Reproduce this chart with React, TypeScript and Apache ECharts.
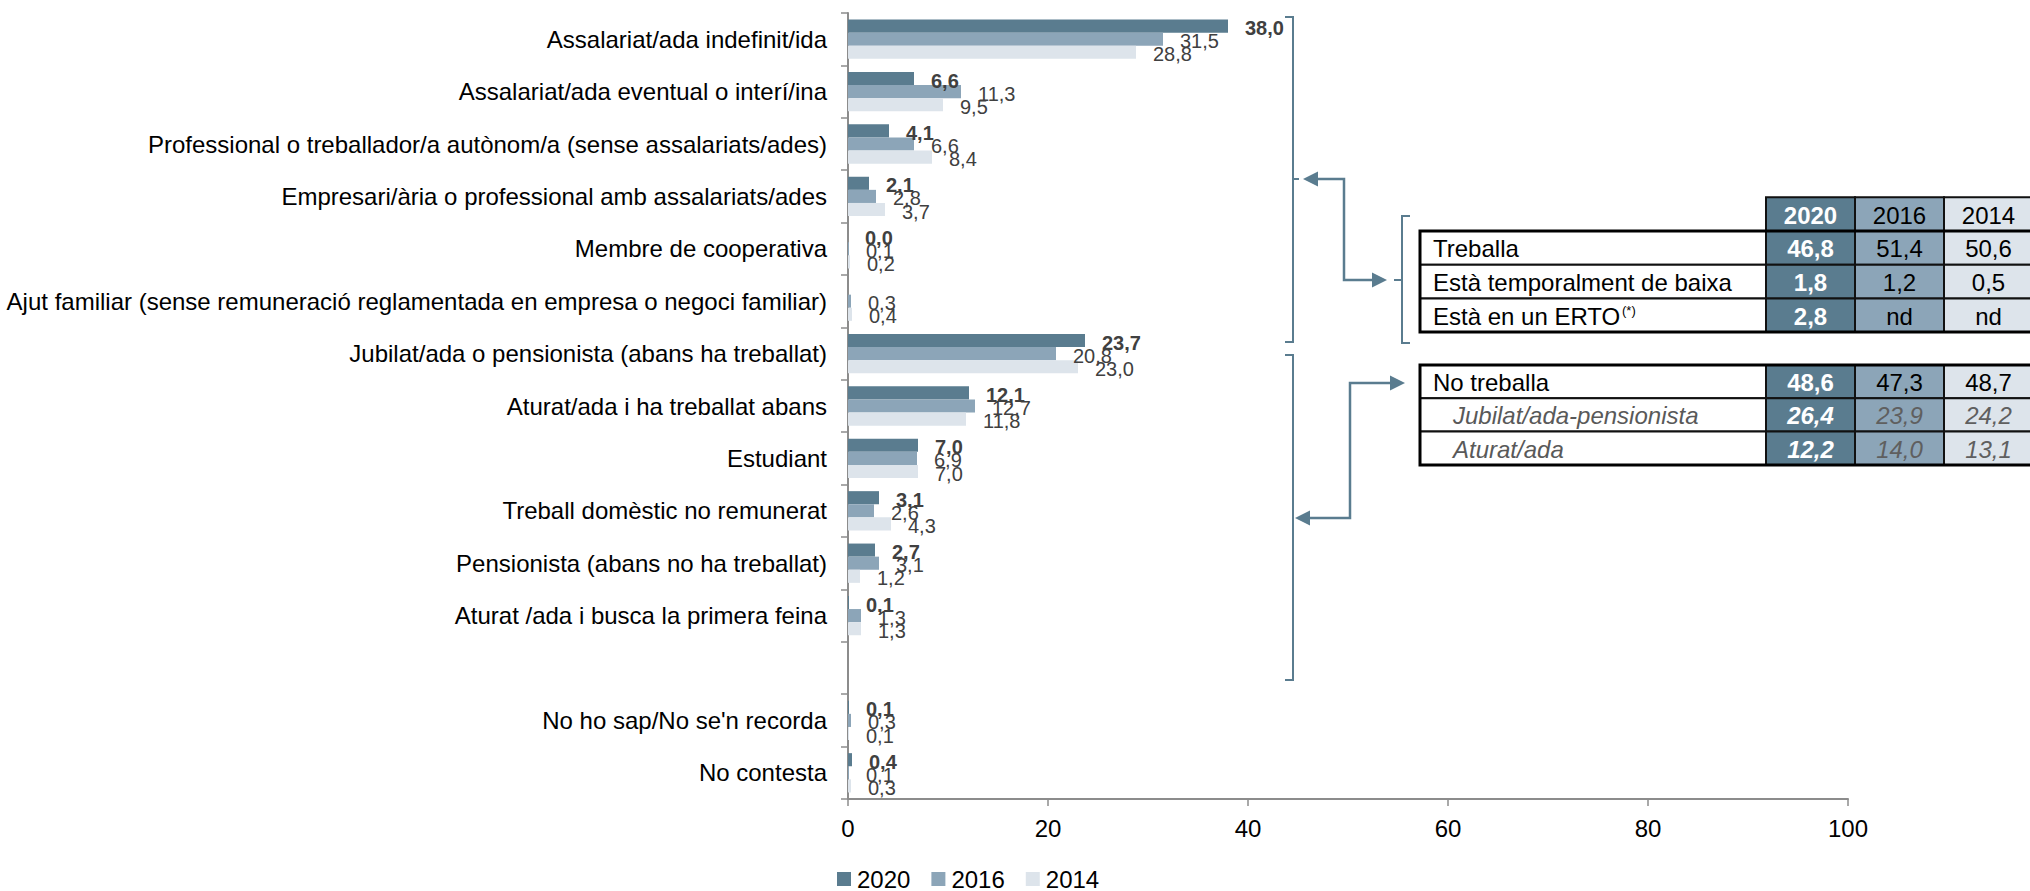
import React, { useEffect, useRef } from 'react';
import * as echarts from 'echarts';

const categories = [
  'Assalariat/ada indefinit/ida',
  'Assalariat/ada eventual o interí/ina',
  'Professional o treballador/a autònom/a (sense assalariats/ades)',
  'Empresari/ària o professional amb assalariats/ades',
  'Membre de cooperativa',
  'Ajut familiar (sense remuneració reglamentada en empresa o negoci familiar)',
  'Jubilat/ada o pensionista (abans ha treballat)',
  'Aturat/ada i ha treballat abans',
  'Estudiant',
  'Treball domèstic no remunerat',
  'Pensionista (abans no ha treballat)',
  'Aturat /ada i busca la primera feina',
  '',
  "No ho sap/No se'n recorda",
  'No contesta',
];

const seriesNames = ['2020', '2016', '2014'];
const values2020 = [38.0, 6.6, 4.1, 2.1, 0.0, null, 23.7, 12.1, 7.0, 3.1, 2.7, 0.1, null, 0.1, 0.4];
const values2016 = [31.5, 11.3, 6.6, 2.8, 0.1, 0.3, 20.8, 12.7, 6.9, 2.6, 3.1, 1.3, null, 0.3, 0.1];
const values2014 = [28.8, 9.5, 8.4, 3.7, 0.2, 0.4, 23.0, 11.8, 7.0, 4.3, 1.2, 1.3, null, 0.1, 0.3];

const xTicks = [0, 20, 40, 60, 80, 100];

const table1Labels = ['Treballa', 'Està temporalment de baixa', 'Està en un ERTO'];
const table1_2020 = [46.8, 1.8, 2.8];
const table1_2016 = [51.4, 1.2, null];
const table1_2014 = [50.6, 0.5, null];

const table2Labels = ['No treballa', 'Jubilat/ada-pensionista', 'Aturat/ada'];
const table2_2020 = [48.6, 26.4, 12.2];
const table2_2016 = [47.3, 23.9, 14.0];
const table2_2014 = [48.7, 24.2, 13.1];

const COLORS = ['#5a7c8f', '#8ca5b8', '#dde4eb'];
const ACCENT = '#5a7c8f';
const FONT = '"Liberation Sans", Arial, sans-serif';

const fmt = (v: number | null) => (v == null ? 'nd' : v.toFixed(1).replace('.', ','));

function buildTable(
  labels: string[],
  v20: (number | null)[],
  v16: (number | null)[],
  v14: (number | null)[],
  top: number,
  rowH: number,
  withHeader: boolean,
  italicRows: boolean[],
  superscript: boolean[]
) {
  const els: any[] = [];
  const x0 = 1420;
  const cols = [1766, 1855, 1944, 2033];
  const vals = [v20, v16, v14];
  if (withHeader) {
    const hy = top - rowH;
    for (let c = 0; c < 3; c++) {
      els.push({
        type: 'rect',
        shape: { x: cols[c], y: hy, width: cols[c + 1] - cols[c], height: rowH },
        style: { fill: COLORS[c], stroke: '#111', lineWidth: 2 },
      });
      els.push({
        type: 'text',
        x: (cols[c] + cols[c + 1]) / 2,
        y: hy + rowH / 2 + 1,
        style: {
          text: seriesNames[c],
          fill: c === 0 ? '#fff' : '#000',
          fontSize: 24,
          fontWeight: c === 0 ? 'bold' : 'normal',
          fontFamily: FONT,
          align: 'center',
          verticalAlign: 'middle',
        },
      });
    }
  }
  for (let r = 0; r < labels.length; r++) {
    const y = top + r * rowH;
    const it = italicRows[r];
    els.push({
      type: 'rect',
      shape: { x: x0, y, width: cols[0] - x0, height: rowH },
      style: { fill: '#fff', stroke: '#111', lineWidth: 2 },
    });
    els.push({
      type: 'text',
      x: x0 + (it ? 33 : 13),
      y: y + rowH / 2 + 1,
      style: {
        text: labels[r],
        fill: it ? '#595959' : '#000',
        fontSize: 24,
        fontStyle: it ? 'italic' : 'normal',
        fontFamily: FONT,
        align: 'left',
        verticalAlign: 'middle',
      },
    });
    if (superscript[r]) {
      els.push({
        type: 'text',
        x: x0 + 13 + 189,
        y: y + 6,
        style: {
          text: '(*)',
          fill: '#000',
          fontSize: 13,
          fontFamily: FONT,
          align: 'left',
          verticalAlign: 'top',
        },
      });
    }
    for (let c = 0; c < 3; c++) {
      els.push({
        type: 'rect',
        shape: { x: cols[c], y, width: cols[c + 1] - cols[c], height: rowH },
        style: { fill: COLORS[c], stroke: '#111', lineWidth: 2 },
      });
      els.push({
        type: 'text',
        x: (cols[c] + cols[c + 1]) / 2,
        y: y + rowH / 2 + 1,
        style: {
          text: fmt(vals[c][r]),
          fill: c === 0 ? '#fff' : it ? '#5f5f5f' : '#000',
          fontSize: 24,
          fontWeight: c === 0 ? 'bold' : 'normal',
          fontStyle: it ? 'italic' : 'normal',
          fontFamily: FONT,
          align: 'center',
          verticalAlign: 'middle',
        },
      });
    }
  }
  els.push({
    type: 'rect',
    shape: { x: x0, y: top, width: cols[3] - x0, height: rowH * labels.length },
    style: { fill: 'none', stroke: '#000', lineWidth: 3 },
  });
  return els;
}

function buildConnectors() {
  const line = (points: number[][], w = 2) => ({
    type: 'polyline',
    shape: { points },
    style: { stroke: ACCENT, lineWidth: w, fill: null },
  });
  const tri = (points: number[][]) => ({
    type: 'polygon',
    shape: { points },
    style: { fill: ACCENT },
  });
  return [
    // upper bracket
    line([[1285, 17], [1293, 17], [1293, 342], [1285, 342]]),
    line([[1293, 179], [1299, 179]]),
    // arrow 1
    line([[1316, 179], [1344, 179], [1344, 280], [1373, 280]], 2.5),
    tri([[1303, 179], [1318, 171.5], [1318, 186.5]]),
    tri([[1387, 280], [1372, 272.5], [1372, 287.5]]),
    line([[1394, 280], [1402, 280]]),
    // small bracket
    line([[1410, 216], [1402, 216], [1402, 343], [1410, 343]]),
    // lower bracket
    line([[1285, 355], [1293, 355], [1293, 680], [1285, 680]]),
    // arrow 2
    line([[1308, 518], [1350, 518], [1350, 383], [1391, 383]], 2.5),
    tri([[1295, 518], [1310, 510.5], [1310, 525.5]]),
    tri([[1405, 383], [1390, 375.5], [1390, 390.5]]),
  ];
}

export default function App() {
  const ref = useRef<HTMLDivElement>(null);
  useEffect(() => {
    const chart = echarts.init(ref.current!, null, { renderer: 'svg' });
    const labelFor = (bold: boolean) => ({
      show: true,
      position: 'right',
      distance: 17,
      offset: [0, 2],
      color: '#404040',
      fontSize: 20,
      fontWeight: bold ? 'bold' : 'normal',
      fontFamily: FONT,
      formatter: (p: any) => (p.value == null ? '' : Number(p.value).toFixed(1).replace('.', ',')),
    });
    const data = [values2020, values2016, values2014];
    const option: any = {
      animation: false,
      backgroundColor: '#fff',
      textStyle: { fontFamily: FONT },
      grid: { left: 848, top: 13, width: 1000, height: 786, containLabel: false },
      legend: {
        data: seriesNames,
        left: 837,
        top: 867,
        padding: 0,
        itemWidth: 14,
        itemHeight: 14,
        itemGap: 21,
        icon: 'rect',
        textStyle: { fontSize: 24, lineHeight: 24, color: '#000', fontFamily: FONT, padding: [0, 0, 0, 1] },
      },
      xAxis: {
        type: 'value',
        min: xTicks[0],
        max: xTicks[xTicks.length - 1],
        interval: xTicks[1] - xTicks[0],
        axisLine: { show: true, lineStyle: { color: '#8c8c8c', width: 2 } },
        axisTick: { show: true, length: 7, lineStyle: { color: '#8c8c8c', width: 1.5 } },
        splitLine: { show: false },
        axisLabel: { fontSize: 24, color: '#000', margin: 17, fontFamily: FONT },
      },
      yAxis: {
        type: 'category',
        inverse: true,
        data: categories,
        axisLine: { show: true, lineStyle: { color: '#8c8c8c', width: 2 } },
        axisTick: { show: true, length: 7, lineStyle: { color: '#8c8c8c', width: 1.5 } },
        axisLabel: { fontSize: 24, color: '#000', margin: 21, fontFamily: FONT },
      },
      series: seriesNames.map((name, i) => ({
        name,
        type: 'bar',
        data: data[i],
        barGap: '0%',
        barCategoryGap: '25%',
        itemStyle: { color: COLORS[i] },
        label: labelFor(i === 0),
      })),
      graphic: [
        ...buildConnectors(),
        ...buildTable(table1Labels, table1_2020, table1_2016, table1_2014, 231, 33.7, true, [false, false, false], [false, false, true]),
        ...buildTable(table2Labels, table2_2020, table2_2016, table2_2014, 365, 33.3, false, [false, true, true], [false, false, false]),
      ].map((e) => ({ ...e, silent: true, z: 100 })),
    };
    chart.setOption(option);
    return () => chart.dispose();
  }, []);
  return (
    <div
      ref={ref}
      style={{ position: 'fixed', left: 0, top: 0, width: 2030, height: 891, background: '#fff' }}
    />
  );
}
